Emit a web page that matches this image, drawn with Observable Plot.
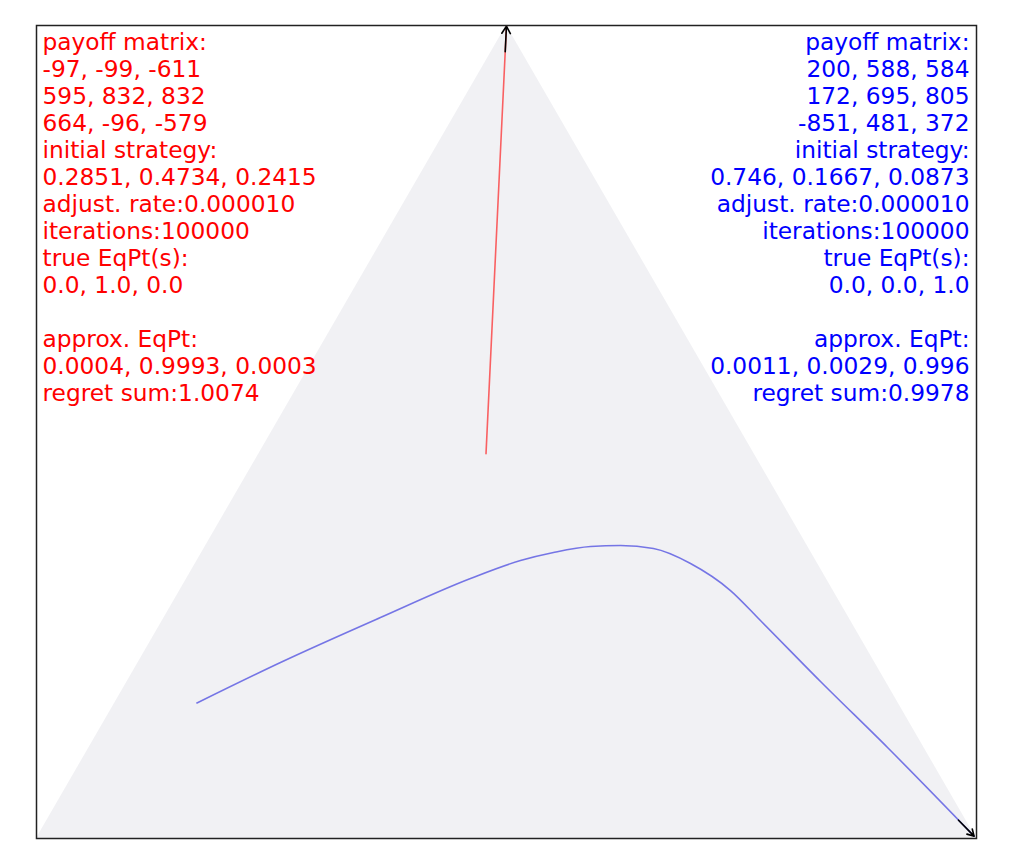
<!DOCTYPE html>
<html>
<head>
<meta charset="utf-8">
<script src="https://cdn.jsdelivr.net/npm/d3@7"></script>
<script src="https://cdn.jsdelivr.net/npm/@observablehq/plot@0.6"></script>
<style>
  html, body { margin: 0; padding: 0; background: #fff; }
  #chart svg { display: block; }
</style>
</head>
<body>
<div id="chart"></div>
<script>
// ---- data (strategies as probabilities over 3 pure strategies) ----
const simplexP2 = [0, 1, 0];
const simplexP3 = [0, 0, 1];

const redMatrix = [[-97, -99, -611], [595, 832, 832], [664, -96, -579]];
const redInit = [0.2851, 0.4734, 0.2415];
const redRate = "0.000010";
const redIterations = 100000;
const redTrueEq = [0.0, 1.0, 0.0];
const redApprox = [0.0004, 0.9993, 0.0003];
const redRegret = 1.0074;
// trajectory (p2, p3)
const redP2 = [0.4734, 0.9993];
const redP3 = [0.2415, 0.0003];

const blueMatrix = [[200, 588, 584], [172, 695, 805], [-851, 481, 372]];
const blueInit = [0.746, 0.1667, 0.0873];
const blueRate = "0.000010";
const blueIterations = 100000;
const blueTrueEq = [0.0, 0.0, 1.0];
const blueApprox = [0.0011, 0.0029, 0.996];
const blueRegret = 0.9978;
const blueP2 = [0.1667, 0.2165, 0.2718, 0.3198, 0.3419, 0.3518, 0.3592, 0.3604, 0.3567, 0.3383, 0.3050, 0.2681, 0.1931, 0.1119, 0.0029];
const blueP3 = [0.0873, 0.1513, 0.2300, 0.3018, 0.3439, 0.3741, 0.4098, 0.4411, 0.4780, 0.5266, 0.5858, 0.6361, 0.7375, 0.8494, 0.996];

// ---- helpers ----
const proj = (p2, p3) => ({x: p2 / 2 + p3, y: p2});
const tri = simplexP2.map((p2, i) => proj(p2, simplexP3[i]));
const redPath = redP2.map((p2, i) => proj(p2, redP3[i]));
const bluePath = blueP2.map((p2, i) => proj(p2, blueP3[i]));

function arrowSeg(path, frac) {
  const a = path[path.length - 2], b = path[path.length - 1];
  return [{x1: b.x - (b.x - a.x) * frac, y1: b.y - (b.y - a.y) * frac, x2: b.x, y2: b.y}];
}

function panelText(m, init, rate, iters, trueEq, approx, regret) {
  return [
    "payoff matrix:",
    ...m.map(r => r.join(", ")),
    "initial strategy:",
    init.join(", "),
    "adjust. rate:" + rate,
    "iterations:" + iters,
    "true EqPt(s):",
    trueEq.map(v => v.toFixed(1)).join(", "),
    " ",
    "approx. EqPt:",
    approx.join(", "),
    "regret sum:" + regret
  ].join("\n");
}
const leftText = panelText(redMatrix, redInit, redRate, redIterations, redTrueEq, redApprox, redRegret);
const rightText = panelText(blueMatrix, blueInit, blueRate, blueIterations, blueTrueEq, blueApprox, blueRegret);

const chart = Plot.plot({
  width: 1016,
  height: 860,
  marginLeft: 36,
  marginRight: 40,
  marginTop: 25,
  marginBottom: 22,
  x: {domain: [0, 1], axis: null},
  y: {domain: [0, 1], axis: null},
  style: {fontFamily: "DejaVu Sans", background: "#fff"},
  marks: [
    Plot.areaY(tri, {x: "x", y1: 0, y2: "y", fill: "#f1f1f4", curve: "linear"}),
    Plot.line(redPath, {x: "x", y: "y", stroke: "#ff0000", strokeOpacity: 0.6, strokeWidth: 1.6}),
    Plot.line(bluePath, {x: "x", y: "y", stroke: "#3333dd", strokeOpacity: 0.65, strokeWidth: 1.6, curve: "monotone-x"}),
    Plot.arrow(arrowSeg(redPath, 0.06), {x1: "x1", y1: "y1", x2: "x2", y2: "y2", stroke: "#000", strokeWidth: 1.6, headLength: 8}),
    Plot.arrow(arrowSeg(bluePath, 0.18), {x1: "x1", y1: "y1", x2: "x2", y2: "y2", stroke: "#000", strokeWidth: 1.6, headLength: 8}),
    Plot.text([leftText], {frameAnchor: "top-left", dx: 6, dy: 5, fill: "#ff0000", fontSize: 23.3, lineHeight: 1.16, textAnchor: "start", lineAnchor: "top"}),
    Plot.text([rightText], {frameAnchor: "top-right", dx: -7, dy: 5, fill: "#0000ff", fontSize: 23.3, lineHeight: 1.16, textAnchor: "end", lineAnchor: "top"}),
    Plot.frame({stroke: "#222", strokeWidth: 1.5})
  ]
});
document.getElementById("chart").appendChild(chart);
</script>
</body>
</html>
